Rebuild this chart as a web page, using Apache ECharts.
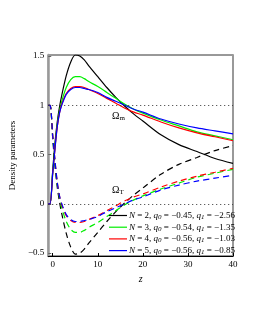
<!DOCTYPE html>
<html><head><meta charset="utf-8">
<script src="https://cdn.jsdelivr.net/npm/echarts@6/dist/echarts.min.js"></script>
<style>html,body{margin:0;padding:0;background:#fff}#c{width:255px;height:330px}</style>
</head><body><div id="c"></div>
<script>
const zValues = [-1, -0.6, 0, 0.5, 1, 1.5, 2, 3, 4, 5, 6, 7, 8, 10, 12, 14, 16, 18, 20, 24, 28, 32, 36, 40];
const seriesNames = ['N2', 'N3', 'N4', 'N5'];
const legendLabels = [
  '{i|N} = 2, {i|q}{s|0} = \u22120.45, {i|q}{s|1} = \u22122.56',
  '{i|N} = 3, {i|q}{s|0} = \u22120.54, {i|q}{s|1} = \u22121.35',
  '{i|N} = 4, {i|q}{s|0} = \u22120.56, {i|q}{s|1} = \u22121.03',
  '{i|N} = 5, {i|q}{s|0} = \u22120.56, {i|q}{s|1} = \u22120.85'
];
const colors = ['#000000', '#00ee00', '#ff0000', '#0000ff'];
// Omega_m (solid)
const omegaM_N2 = [0, 0, 0.34, 0.62, 0.83, 0.98, 1.10, 1.30, 1.44, 1.51, 1.50, 1.46, 1.40, 1.29, 1.18, 1.08, 0.99, 0.91, 0.84, 0.70, 0.60, 0.53, 0.46, 0.41];
const omegaM_N3 = [0, 0, 0.33, 0.58, 0.80, 0.94, 1.04, 1.18, 1.26, 1.29, 1.29, 1.27, 1.24, 1.19, 1.13, 1.07, 1.01, 0.96, 0.92, 0.85, 0.79, 0.73, 0.69, 0.65];
const omegaM_N4 = [0, 0, 0.31, 0.56, 0.78, 0.92, 1.01, 1.12, 1.17, 1.19, 1.19, 1.18, 1.16, 1.12, 1.07, 1.02, 0.97, 0.93, 0.90, 0.83, 0.77, 0.72, 0.68, 0.64];
const omegaM_N5 = [0, 0, 0.31, 0.56, 0.78, 0.92, 1.00, 1.11, 1.16, 1.18, 1.18, 1.17, 1.16, 1.13, 1.08, 1.04, 1.00, 0.96, 0.93, 0.86, 0.81, 0.77, 0.74, 0.71];
// Omega_T (dashed)
const omegaT_N2 = [1, 1, 0.66, 0.38, 0.17, 0.02, -0.10, -0.30, -0.44, -0.51, -0.50, -0.46, -0.40, -0.29, -0.18, -0.08, 0.01, 0.09, 0.16, 0.30, 0.40, 0.47, 0.54, 0.59];
const omegaT_N3 = [1, 1, 0.67, 0.42, 0.20, 0.06, -0.04, -0.18, -0.26, -0.29, -0.29, -0.27, -0.24, -0.19, -0.13, -0.07, -0.01, 0.04, 0.08, 0.15, 0.21, 0.27, 0.31, 0.35];
const omegaT_N4 = [1, 1, 0.69, 0.44, 0.22, 0.08, -0.01, -0.12, -0.17, -0.19, -0.19, -0.18, -0.16, -0.12, -0.07, -0.02, 0.03, 0.07, 0.10, 0.17, 0.23, 0.28, 0.32, 0.36];
const omegaT_N5 = [1, 1, 0.69, 0.44, 0.22, 0.08, 0.00, -0.11, -0.16, -0.18, -0.18, -0.17, -0.16, -0.13, -0.08, -0.04, 0.00, 0.04, 0.07, 0.14, 0.19, 0.23, 0.26, 0.29];
const xTicks = [0, 10, 20, 30, 40];
const yTicks = [-0.5, 0, 0.5, 1, 1.5];
const refLines = [1, 0];

const solid = [omegaM_N2, omegaM_N3, omegaM_N4, omegaM_N5];
const dashed = [omegaT_N2, omegaT_N3, omegaT_N4, omegaT_N5];
const pair = arr => zValues.map((z, i) => [z, arr[i]]);
const FONT = 'Liberation Serif';

const series = [];
series.push({
  type: 'line', name: 'ref', data: [], silent: true,
  markLine: {
    silent: true, symbol: 'none', label: {show: false},
    lineStyle: {type: [1, 3], color: '#333', width: 1},
    data: refLines.map(v => ({yAxis: v}))
  }
});
for (let k = 0; k < 4; k++) {
  series.push({
    type: 'line', name: seriesNames[k], data: pair(solid[k]), symbol: 'none',
    smooth: 0.3,
    lineStyle: {color: colors[k], width: 1.2}, itemStyle: {color: colors[k]}, z: 3
  });
}
for (let k = 0; k < 4; k++) {
  series.push({
    type: 'line', name: seriesNames[k] + 'T', data: pair(dashed[k]), symbol: 'none',
    smooth: 0.3,
    lineStyle: {color: colors[k], width: 1.2, type: [6, 4]}, itemStyle: {color: colors[k]}, z: 3
  });
}

const fmtNum = v => String(v).replace('-', '\u2212');
const chart = echarts.init(document.getElementById('c'), null, {renderer: 'canvas'});
chart.setOption({
  animation: false,
  backgroundColor: '#fff',
  grid: {left: 43, right: 22, top: 55, bottom: 74, show: true, borderColor: '#333', borderWidth: 1, backgroundColor: 'transparent'},
  legend: {
    data: seriesNames.map(n => ({name: n, icon: 'rect'})), orient: 'vertical', left: 109, top: 211,
    itemWidth: 18, itemHeight: 1.2, itemGap: 2.2, padding: 0,
    formatter: name => legendLabels[seriesNames.indexOf(name)],
    textStyle: {
      fontFamily: FONT, fontSize: 9, color: '#000', padding: [0, 0, 0, -3], lineHeight: 9,
      rich: {
        i: {fontFamily: FONT, fontStyle: 'italic', fontSize: 9, color: '#000'},
        s: {fontFamily: FONT, fontStyle: 'italic', fontSize: 7, color: '#000', padding: [3, 0, 0, 0]}
      }
    }
  },
  xAxis: [{
    type: 'value', min: -1, max: 40,
    name: 'z', nameLocation: 'middle', nameGap: 10,
    nameTextStyle: {fontFamily: FONT, fontStyle: 'italic', fontSize: 10, color: '#000'},
    axisLine: {show: true, onZero: false, lineStyle: {color: '#000', width: 1}},
    axisTick: {show: true, length: 3, inside: true, customValues: xTicks, lineStyle: {color: '#000'}},
    axisLabel: {customValues: xTicks, fontFamily: FONT, fontSize: 9, color: '#000', margin: 4, formatter: fmtNum},
    splitLine: {show: false}
  }],
  yAxis: [{
    type: 'value', min: -0.53, max: 1.51,
    name: 'Density parameters', nameLocation: 'middle', nameGap: 17,
    nameTextStyle: {fontFamily: FONT, fontSize: 9, color: '#000'},
    axisLine: {show: true, onZero: false, lineStyle: {color: '#999', width: 2.5}},
    axisTick: {show: true, length: 3, inside: true, customValues: yTicks, lineStyle: {color: '#666'}},
    axisLabel: {customValues: yTicks, fontFamily: FONT, fontSize: 9, color: '#000', margin: 4, formatter: fmtNum},
    splitLine: {show: false}
  }, {
    type: 'value', min: -0.53, max: 1.51, position: 'right',
    axisLine: {show: true, onZero: false, lineStyle: {color: '#999', width: 2}},
    axisTick: {show: false}, axisLabel: {show: false}, splitLine: {show: false}
  }],
  graphic: [
    {type: 'text', left: 112, top: 111, style: {text: '{a|\u03A9}{b|m}', rich: {
      a: {fontFamily: FONT, fontSize: 10, fill: '#000'},
      b: {fontFamily: FONT, fontSize: 7, fill: '#000', padding: [4, 0, 0, 0]}}}},
    {type: 'text', left: 112, top: 185, style: {text: '{a|\u03A9}{b|T}', rich: {
      a: {fontFamily: FONT, fontSize: 10, fill: '#000'},
      b: {fontFamily: FONT, fontSize: 7, fill: '#000', padding: [4, 0, 0, 0]}}}}
  ],
  series: series
});
</script></body></html>
